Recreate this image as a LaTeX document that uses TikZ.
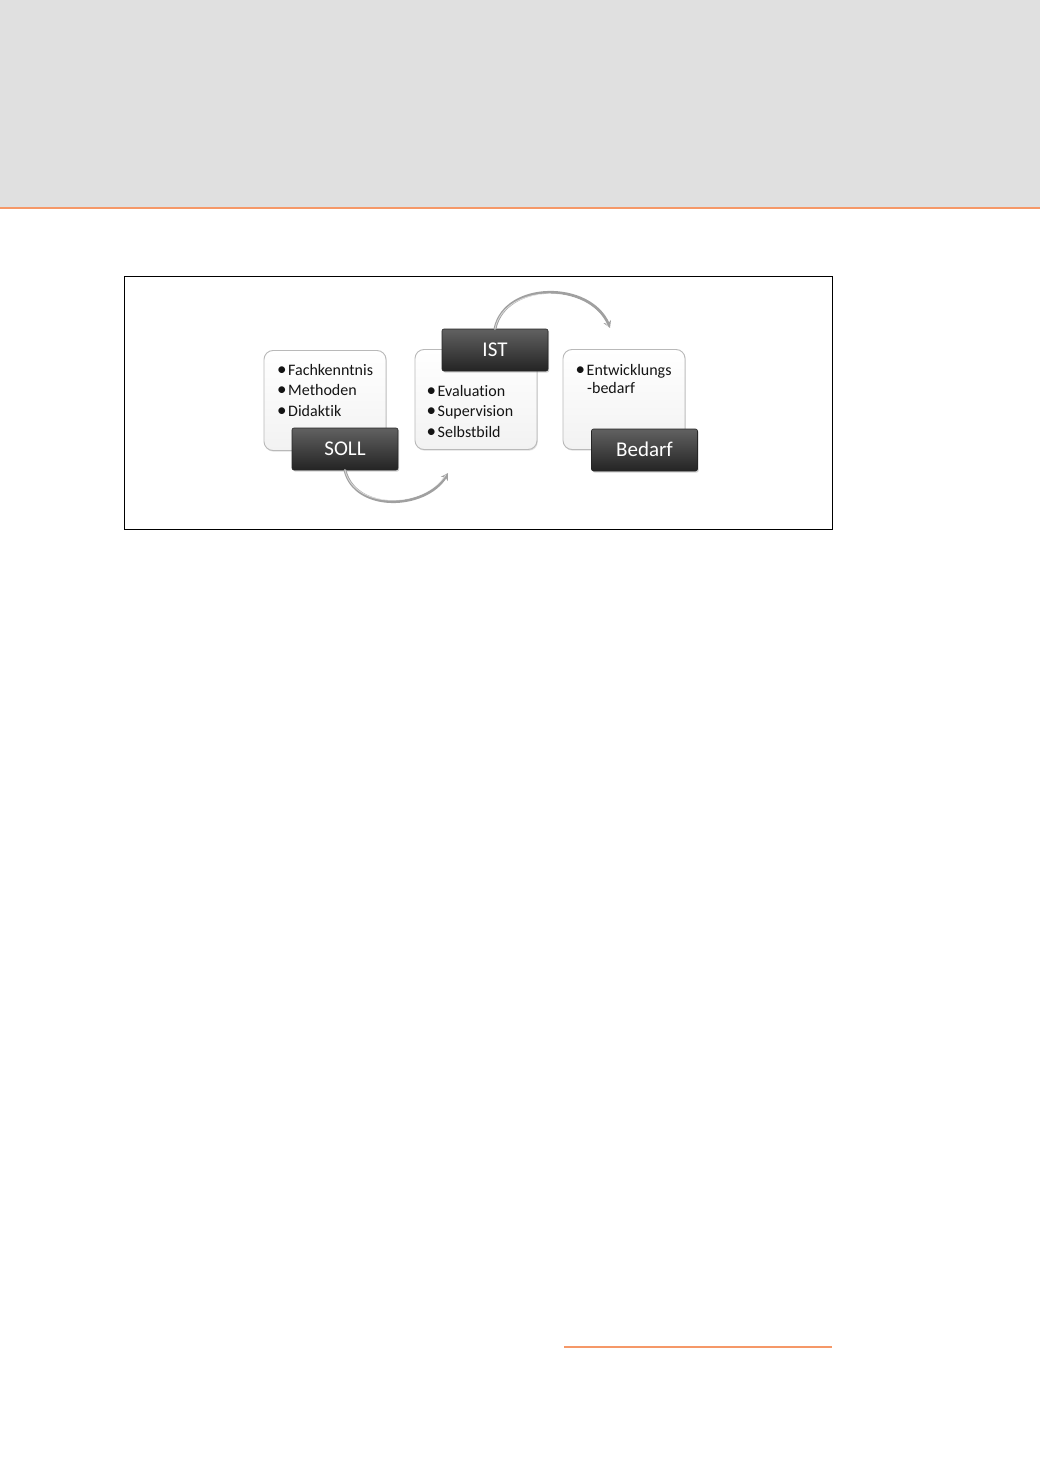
\documentclass[tikz,border=0pt]{standalone}
\usepackage{fontspec}
\setmainfont{Carlito}[Ligatures=NoCommon]
\usetikzlibrary{shadows,arrows.meta}
\definecolor{hdrgray}{RGB}{224,224,224}
\definecolor{accent}{RGB}{245,152,104}
\definecolor{boxline}{RGB}{185,185,185}
\definecolor{arrgray}{RGB}{160,160,160}
\tikzset{
  textbox/.style={draw=boxline, line width=0.9pt, rounded corners=9pt,
    top color=white, bottom color={rgb,255:red,242;green,242;blue,242},
    minimum width=122pt, minimum height=100pt, inner sep=0pt,
    drop shadow={shadow xshift=0.8pt, shadow yshift=-1.2pt, opacity=0.25}},
  labelbox/.style={draw=black!85, line width=0.6pt, rounded corners=2pt,
    top color=black!62, bottom color=black!86, text=white,
    minimum width=106pt, minimum height=42pt, inner sep=0pt,
    text height=13.5pt, text depth=0pt,
    font=\fontsize{21}{25}\selectfont,
    drop shadow={shadow xshift=1.2pt, shadow yshift=-1.5pt, opacity=0.35}},
  listitem/.style={anchor=base west, inner sep=0pt, font=\fontsize{16}{19}\selectfont, text=black!92},
  cyclearrow/.style={draw=arrgray, line width=2.8pt, line cap=round,
    -{Stealth[length=7pt, width=8pt]}},
  highlight/.style={draw=white, line width=0.8pt, opacity=0.6}
}
\newcommand{\bul}{\makebox[11pt][l]{\fontsize{19}{19}\selectfont\raisebox{-0.4pt}{\textbullet}}}
\begin{document}
\begin{tikzpicture}[x=1pt,y=-1pt]
\useasboundingbox (0,0) rectangle (1040,1471);
\fill[white] (0,0) rectangle (1040,1471);
% header
\fill[hdrgray] (0,0) rectangle (1040,207);
\draw[accent, line width=2pt] (0,208) -- (1040,208);
% frame
\draw[black, line width=0.8pt] (124,276) rectangle (832,529);
% footer line
\draw[accent, line width=1.2pt] (564,1347) -- (832,1347);

% text boxes
\node[textbox] (sollbox) at (325,400.5) {};
\node[textbox] (istbox) at (476,399.5) {};
\node[textbox] (bedbox) at (624,399.5) {};

% list texts
\node[listitem] (s1) at (277,375) {\bul Fachkenntnis};
\node[listitem] (s2) at (277,395.5) {\bul Methoden};
\node[listitem] (s3) at (277,416) {\bul Didaktik};
\node[listitem] (i1) at (426.5,396) {\bul Evaluation};
\node[listitem] (i2) at (426.5,416.5) {\bul Supervision};
\node[listitem] (i3) at (426.5,437) {\bul Selbstbild};
\node[listitem] (b1) at (575.5,375) {\bul Entwicklungs};
\node[listitem] (b2) at (587,393) {-bedarf};

% labels
\node[labelbox] (sollab) at (345,449) {SOLL};
\node[labelbox] (istlab) at (495,350) {IST};
\node[labelbox] (bedlab) at (644.5,450) {Bedarf};

% arrows
\coordinate (a1end) at (448,473);
\coordinate (a2end) at (610,328);
\draw[cyclearrow] (sollab.south) .. controls (355,512) and (425,510) .. (a1end);
\draw[highlight] (sollab.south) .. controls (355,510.5) and (424,508.5) .. (446,474.5);
\draw[cyclearrow] (istlab.north) .. controls (505,281) and (590,281) .. (a2end);
\draw[highlight] (istlab.north) .. controls (505,282.5) and (589,282.5) .. (608,327);
\end{tikzpicture}
\end{document}
